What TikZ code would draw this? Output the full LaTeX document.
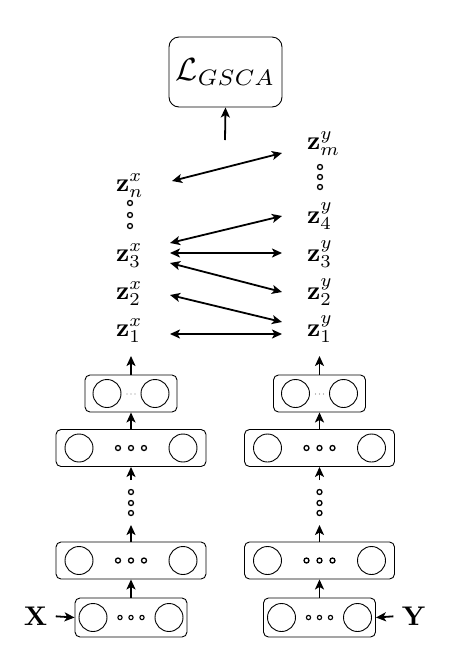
\documentclass[tikz,border=0pt]{standalone}
\usepackage{graphicx}
\usetikzlibrary{arrows.meta,calc}
\newcommand{\zvec}[2]{\scalebox{2.6}{$\mathbf{z}_{#1}^{#2}$}}
\begin{document}
\begin{tikzpicture}[x=1pt,y=-1pt,
  >={Stealth[length=10pt,width=9pt,inset=2.5pt]},
  arr/.style={->,line width=1.8pt},
  biarr/.style={<->,line width=1.8pt},
  layer/.style={draw,rounded corners=5pt,line width=0.9pt,minimum width=#1,minimum height=37pt,inner sep=0pt},
  neuron/.style={draw,circle,line width=0.9pt,minimum size=28pt,inner sep=0pt},
  bead/.style={draw,circle,line width=1.3pt,minimum size=5pt,inner sep=0pt},
  smallbead/.style={draw,circle,line width=1.1pt,minimum size=4.3pt,inner sep=0pt},
  tinydot/.style={fill=gray,circle,minimum size=1.3pt,inner sep=0pt},
  zlab/.style={inner sep=0pt,anchor=base west},
  lossbox/.style={draw,rounded corners=10pt,line width=0.9pt,minimum width=113pt,minimum height=70pt,inner sep=0pt},
]
\useasboundingbox (0,0) rectangle (450,649);

% two encoder stacks
\foreach \c/\cx in {l/131, r/319.5} {
  % narrow output layer
  \node[layer=92pt] (top\c) at (\cx,393.5) {};
  \node[neuron] (top\c1) at (\cx-24,393.5) {};
  \node[neuron] (top\c2) at (\cx+24,393.5) {};
  \foreach \d in {-4,0,4} \node[tinydot] (top\c d\d) at (\cx+\d,394) {};
  % wide hidden layers
  \foreach \n/\y in {hi/448, lo/560.5} {
    \node[layer=150pt] (\n\c) at (\cx,\y) {};
    \node[neuron] (\n\c1) at (\cx-52,\y) {};
    \node[neuron] (\n\c2) at (\cx+52,\y) {};
    \foreach \d in {-13,0,13} \node[bead] (\n\c b\d) at (\cx+\d,\y) {};
  }
  % input layer
  \node[layer=112pt,minimum height=39pt] (in\c) at (\cx,617.5) {};
  \node[neuron] (in\c1) at (\cx-38,617.5) {};
  \node[neuron] (in\c2) at (\cx+38,617.5) {};
  \foreach \d in {-11,0,11} \node[smallbead] (in\c b\d) at (\cx+\d,617.5) {};
  % elided layers
  \foreach \y in {492,503,513} \node[bead] (gap\c\y) at (\cx,\y) {};
  \coordinate (gapt\c) at (\cx,525);
  \coordinate (gapb\c) at (\cx,480);
  \coordinate (out\c) at (\cx,356);
  % forward arrows
  \draw[arr] (in\c.north) -- (lo\c.south);
  \draw[arr] (lo\c.north) -- (gapt\c);
  \draw[arr] (gapb\c) -- (hi\c.south);
  \draw[arr] (hi\c.north) -- (top\c.south);
  \draw[arr] (top\c.north) -- (out\c);
}

% inputs
\node (X) at (35.5,616) {\scalebox{2.7}{$\mathbf{X}$}};
\node (Y) at (414,616) {\scalebox{2.7}{$\mathbf{Y}$}};
\draw[arr,shorten <=5pt] (X.east) -- (inl.west);
\draw[arr,shorten <=5pt] (Y.west) -- (inr.east);

% embeddings
\node[zlab] (zxn) at (116,191) {\zvec{n}{x}};
\node[zlab] (zx3) at (116,261) {\zvec{3}{x}};
\node[zlab] (zx2) at (116,299) {\zvec{2}{x}};
\node[zlab] (zx1) at (116,336) {\zvec{1}{x}};
\node[zlab] (zym) at (307,149) {\zvec{m}{y}};
\node[zlab] (zy4) at (307,223) {\zvec{4}{y}};
\node[zlab] (zy3) at (307,261) {\zvec{3}{y}};
\node[zlab] (zy2) at (307,299) {\zvec{2}{y}};
\node[zlab] (zy1) at (307,336) {\zvec{1}{y}};
\foreach \y in {203,215,226} \node[bead] (zxdots\y) at (130,\y) {};
\foreach \y in {167,177,187} \node[bead] (zydots\y) at (320,\y) {};

% correspondences
\draw[biarr] ($(zxn.base west)+(56,-10)$) -- ($(zym.base west)+(-25,4)$);
\draw[biarr] ($(zx3.base west)+(54,-18)$) -- ($(zy4.base west)+(-25,-7)$);
\draw[biarr] ($(zx3.base west)+(54,-8)$) -- ($(zy3.base west)+(-25,-8)$);
\draw[biarr] ($(zx3.base west)+(54,2)$) -- ($(zy2.base west)+(-25,-7)$);
\draw[biarr] ($(zx2.base west)+(54,-4)$) -- ($(zy1.base west)+(-25,-14)$);
\draw[biarr] ($(zx1.base west)+(54,-2)$) -- ($(zy1.base west)+(-25,-2)$);

% loss
\node[lossbox] (loss) at (225.5,72) {\scalebox{3.2}{$\mathcal{L}_{GSCA}$}};
\coordinate (lossin) at (225,140);
\draw[arr] (lossin) -- (loss.south);
\end{tikzpicture}
\end{document}
